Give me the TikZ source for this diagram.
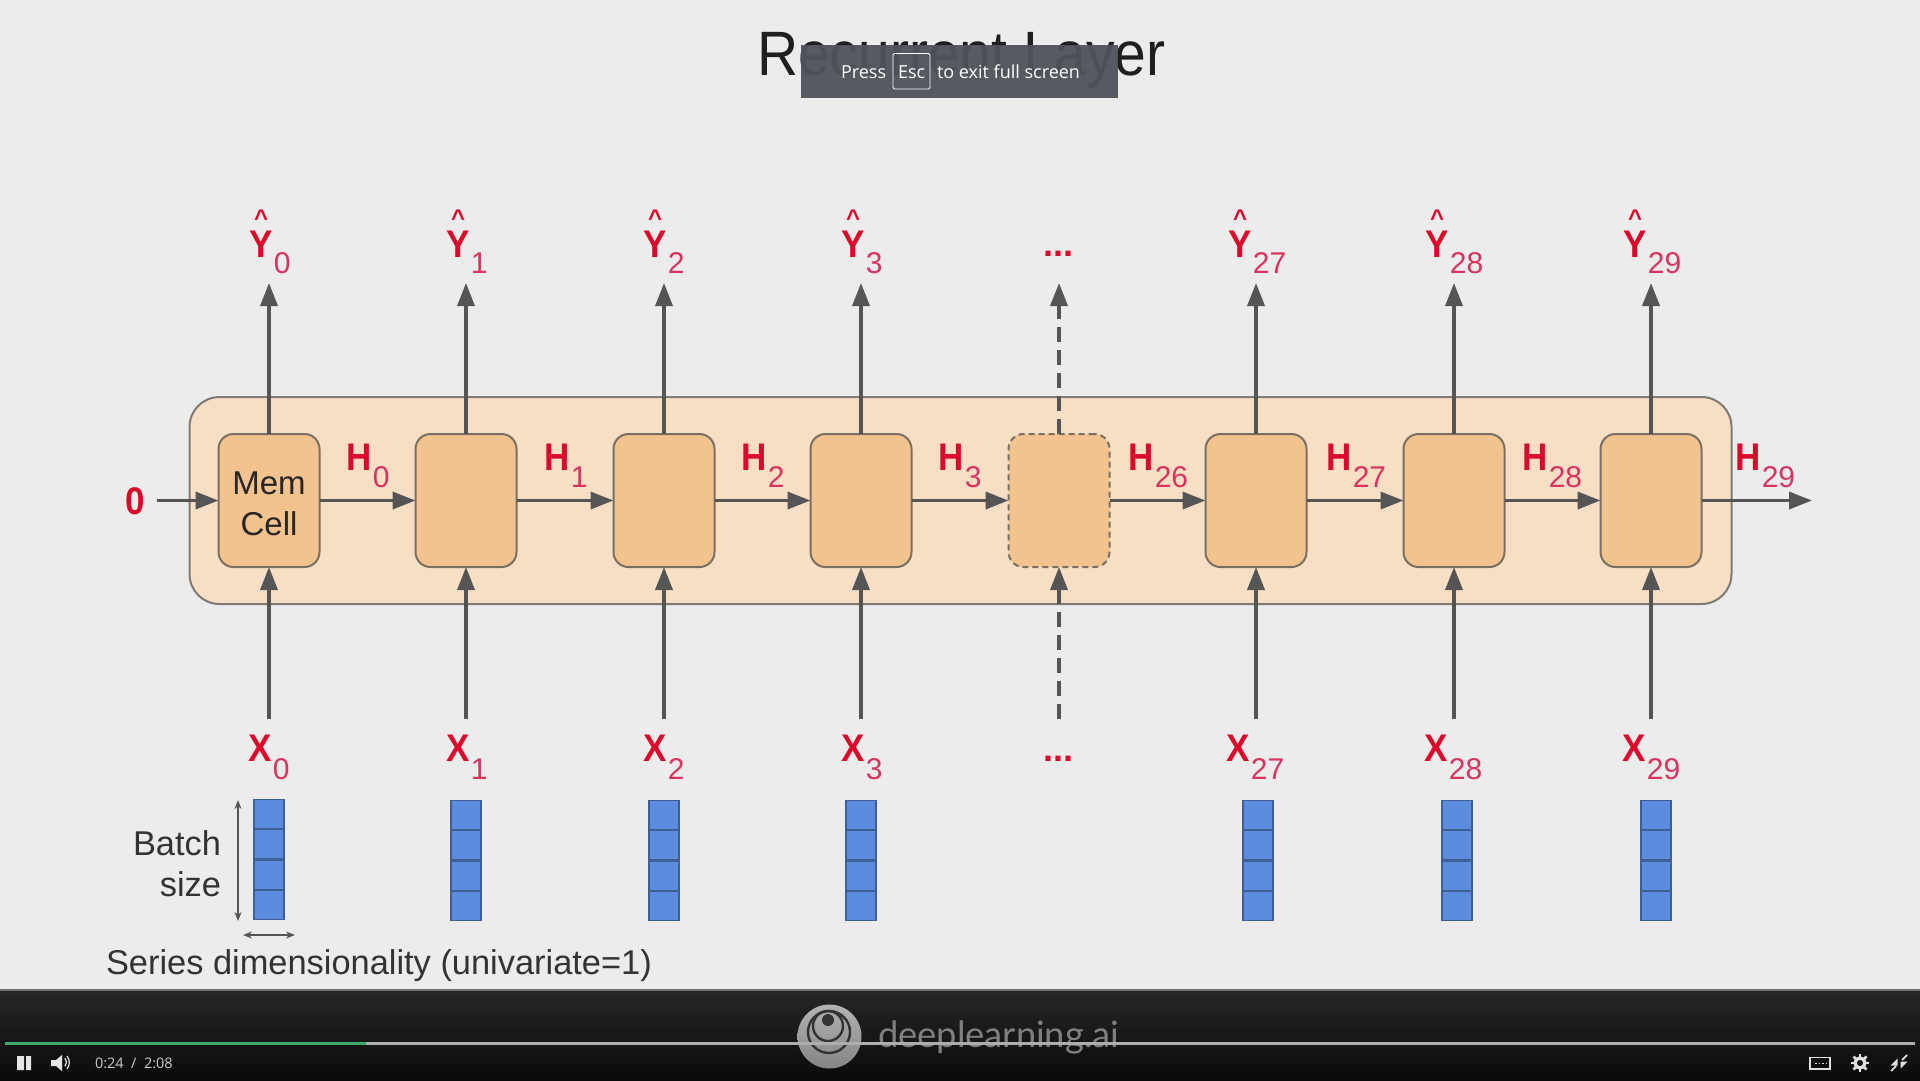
\documentclass[tikz,border=0pt]{standalone}
\usepackage{fontspec}
\setmainfont{Liberation Sans}
\newfontfamily\uifont{Open Sans}
\newfontfamily\logofont{Lato}
\usetikzlibrary{arrows.meta}
\definecolor{bgc}{HTML}{ECECEC}
\definecolor{outerf}{HTML}{F7DFC5}
\definecolor{outerd}{HTML}{7F7B74}
\definecolor{cellf}{HTML}{F2C28F}
\definecolor{celld}{HTML}{7A7062}
\definecolor{arrc}{HTML}{555555}
\definecolor{redm}{HTML}{DC0A2A}
\definecolor{reds}{HTML}{D8345F}
\definecolor{barf}{HTML}{5B8CDE}
\definecolor{bard}{HTML}{3F5F99}
\definecolor{txt}{HTML}{333333}
\definecolor{toast}{HTML}{50535A}
\definecolor{prog}{HTML}{3DAA6E}
\newcommand\myfs[1]{\fontsize{#1pt}{#1pt}\selectfont}
\newcommand\tall[1]{\scalebox{1}[1.1]{#1}}
\newcommand\subt[2]{\kern1.5pt\raisebox{-#1pt}{\myfs{30}\mdseries\color{reds}#2}}
\newcommand\labY[1]{{\myfs{35}\bfseries\color{redm}\rlap{\hspace{5pt}\raisebox{31pt}{\myfs{24}\^{}}}\tall{Y}\subt{16}{#1}}}
\newcommand\labH[1]{{\myfs{35}\bfseries\color{redm}\tall{H}\subt{17}{#1}}}
\newcommand\labX[1]{{\myfs{35}\bfseries\color{redm}\tall{X}\subt{18}{#1}}}
\tikzset{
  lab/.style={anchor=base west,inner sep=0pt,outer sep=0pt},
  cell/.style={draw=celld,fill=cellf,line width=2pt,rounded corners=15pt,minimum width=101pt,minimum height=133pt,inner sep=0pt,outer sep=0pt},
  dcell/.style={cell,dash pattern=on 6pt off 4pt},
  conn/.style={draw=arrc,line width=3.6pt,-{Triangle[length=23pt,width=17pt]}},
  dconn/.style={conn,dash pattern=on 15pt off 8pt},
  dim/.style={draw=arrc,line width=1.2pt,{Stealth[length=9pt,width=7pt]}-{Stealth[length=9pt,width=7pt]}},
  barbox/.style={draw=bard,fill=barf,line width=1.5pt,minimum width=30pt,minimum height=120pt,inner sep=0pt},
  barline/.style={draw=bard,line width=2.2pt},
}
\begin{document}
\begin{tikzpicture}[x=1pt,y=-1pt]
\useasboundingbox (0,0) rectangle (1920,1080);
\fill[bgc] (0,0) rectangle (1920,1080);
% title
\node[lab,text=black!88] (title) at (757,75) {\tall{\myfs{57}Recurrent Layer}};
% outer layer
\node[draw=outerd,fill=outerf,line width=2pt,rounded corners=30pt,minimum width=1542pt,minimum height=207pt,inner sep=0pt] (layer) at (960.5,500.5) {};
% cells
\node[cell,align=center,font=\fontsize{33pt}{41pt}\selectfont,text=black!85] (c0) at (269,500.5) {\rule{0pt}{30pt}Mem\\Cell};
\node[cell] (c1) at (466,500.5) {};
\node[cell] (c2) at (664,500.5) {};
\node[cell] (c3) at (861,500.5) {};
\node[dcell] (c4) at (1059,500.5) {};
\node[cell] (c5) at (1256,500.5) {};
\node[cell] (c6) at (1454,500.5) {};
\node[cell] (c7) at (1651,500.5) {};
% free ends
\foreach \i/\x in {0/269,1/466,2/664,3/861,5/1256,6/1454,7/1651}{
  \coordinate (up\i) at (\x,283);
  \coordinate (in\i) at (\x,719);
  \draw[conn] (c\i.north) -- (up\i);
  \draw[conn] (in\i) -- (c\i.south);
}
\coordinate (up4) at (1059,283);
\coordinate (in4) at (1059,719);
\draw[dconn] (c4.north) -- (up4);
\draw[dconn] (in4) -- (c4.south);
\coordinate (st) at (157,500.5);
\coordinate (en) at (1812,500.5);
\draw[conn] (st) -- (c0.west);
\foreach \a/\b in {0/1,1/2,2/3,3/4,4/5,5/6,6/7}{\draw[conn] (c\a.east) -- (c\b.west);}
\draw[conn] (c7.east) -- (en);
% Y labels
\node[lab] (y0) at (249,257) {\labY{0}};
\node[lab] (y1) at (446,257) {\labY{1}};
\node[lab] (y2) at (643,257) {\labY{2}};
\node[lab] (y3) at (841,257) {\labY{3}};
\node[lab,text=redm] (yd) at (1043,256) {\myfs{36}\bfseries ...};
\node[lab] (y5) at (1228,257) {\labY{27}};
\node[lab] (y6) at (1425,257) {\labY{28}};
\node[lab] (y7) at (1623,257) {\labY{29}};
% H labels
\node[lab] (h0) at (346,470) {\labH{0}};
\node[lab] (h1) at (544,470) {\labH{1}};
\node[lab] (h2) at (741,470) {\labH{2}};
\node[lab] (h3) at (938,470) {\labH{3}};
\node[lab] (h4) at (1128,470) {\labH{26}};
\node[lab] (h5) at (1326,470) {\labH{27}};
\node[lab] (h6) at (1522,470) {\labH{28}};
\node[lab] (h7) at (1735,470) {\labH{29}};
\node[lab,text=redm] (z) at (125,514) {\tall{\myfs{35}\bfseries 0}};
% X labels
\node[lab] (x0) at (248,761) {\labX{0}};
\node[lab] (x1) at (446,761) {\labX{1}};
\node[lab] (x2) at (643,761) {\labX{2}};
\node[lab] (x3) at (841,761) {\labX{3}};
\node[lab,text=redm] (xd) at (1043,761) {\myfs{36}\bfseries ...};
\node[lab] (x5) at (1226,761) {\labX{27}};
\node[lab] (x6) at (1424,761) {\labX{28}};
\node[lab] (x7) at (1622,761) {\labX{29}};
% bars
\foreach \n/\x/\y in {0/269/859.5,1/466/860.5,2/664/860.5,3/861/860.5,5/1258/860.5,6/1457/860.5,7/1656/860.5}{
  \node[barbox] (b\n) at (\x,\y) {};
  \draw[barline] ([yshift=-30pt]b\n.north west) -- ([yshift=-30pt]b\n.north east);
  \draw[barline] (b\n.west) -- (b\n.east);
  \draw[barline] ([yshift=30pt]b\n.south west) -- ([yshift=30pt]b\n.south east);
}
% dimension arrows
\coordinate (da) at (238,800);
\coordinate (db) at (238,921);
\coordinate (dc) at (243,935);
\coordinate (dd) at (295,935);
\draw[dim] (da) -- (db);
\draw[dim] (dc) -- (dd);
\node[lab,anchor=base east,text=txt] (batch) at (221,855) {\myfs{34.4}Batch};
\node[lab,anchor=base east,text=txt] (size) at (221,896) {\myfs{34.4}size};
\node[lab,text=txt] (series) at (106,974) {\myfs{34.4}Series dimensionality (univariate=1)};
% toast
\fill[toast,opacity=.95] (801,45) rectangle (1118,98);
\draw[white,line width=.8pt,rounded corners=1.5pt] (893,53.5) rectangle (930,89);
\node[lab,text=white] (press) at (841,78) {\uifont\myfs{18}Press};
\node[lab,text=white] (esc) at (898,78) {\uifont\myfs{18}Esc};
\node[lab,text=white] (exit) at (937,78) {\uifont\myfs{18}to exit full screen};
% player bar
\shade[top color=black!85,bottom color=black!96] (0,990) rectangle (1920,1080);
\fill[black!55] (0,989) rectangle (1920,991);
% logo
\shade[top color=black!30,bottom color=black!48] (829.5,1036.5) circle (32);
\fill[black!80] (828,1020) circle (6);
\draw[black!80,line width=2.4pt] (829,1032) circle (21);
\draw[black!80,line width=2.4pt] (828,1026) circle (15);
\node[lab,text=black!50] (logo) at (878,1047) {\logofont\myfs{36.3}deeplearning.ai};
% progress
\fill[black!32] (5,1041.5) rectangle (1915,1044.5);
\fill[prog] (5,1041.5) rectangle (366,1044.5);
% controls
\fill[black!10] (17,1056) rectangle (24,1070) (26,1056) rectangle (31,1070);
\fill[black!10] (51,1060) -- (56,1060) -- (62,1055) -- (62,1071) -- (56,1066) -- (51,1066) -- cycle;
\draw[black!10,line width=1.2pt] (65,1058) arc (-40:40:6.5 and 6.5);
\draw[black!10,line width=1.2pt] (67,1056) arc (-40:40:10);
\node[lab,text=black!20] (time) at (95,1068) {\uifont\myfs{14.5}0:24};
\node[lab,text=black!20] (sl) at (131,1068) {\uifont\myfs{14.5}/};
\node[lab,text=black!20] (total) at (144,1068) {\uifont\myfs{14.5}2:08};
% caption icon
\draw[black!12,line width=1.2pt] (1810,1057.5) rectangle (1830,1069);
\foreach \x in {1815,1818.5,1822,1825.5}{\fill[black!12] (\x,1062.5) rectangle ++(1.8,1.8);}
% gear
\draw[black!12,line width=3.4pt] (1860,1063) circle (5);
\foreach \a in {0,45,...,315}{\draw[black!12,line width=2.6pt] (1860,1063) ++(\a:6) -- ++(\a:3.2);}
% fullscreen exit
\draw[black!12,line width=1.8pt] (1891,1071) -- (1896,1066) (1902,1060) -- (1907,1055);
\fill[black!12] (1897.5,1065.5) -- (1897.5,1058.5) -- (1890.5,1065.5) -- cycle;
\fill[black!12] (1900.5,1061.5) -- (1907.5,1061.5) -- (1900.5,1068.5) -- cycle;
\end{tikzpicture}
\end{document}
